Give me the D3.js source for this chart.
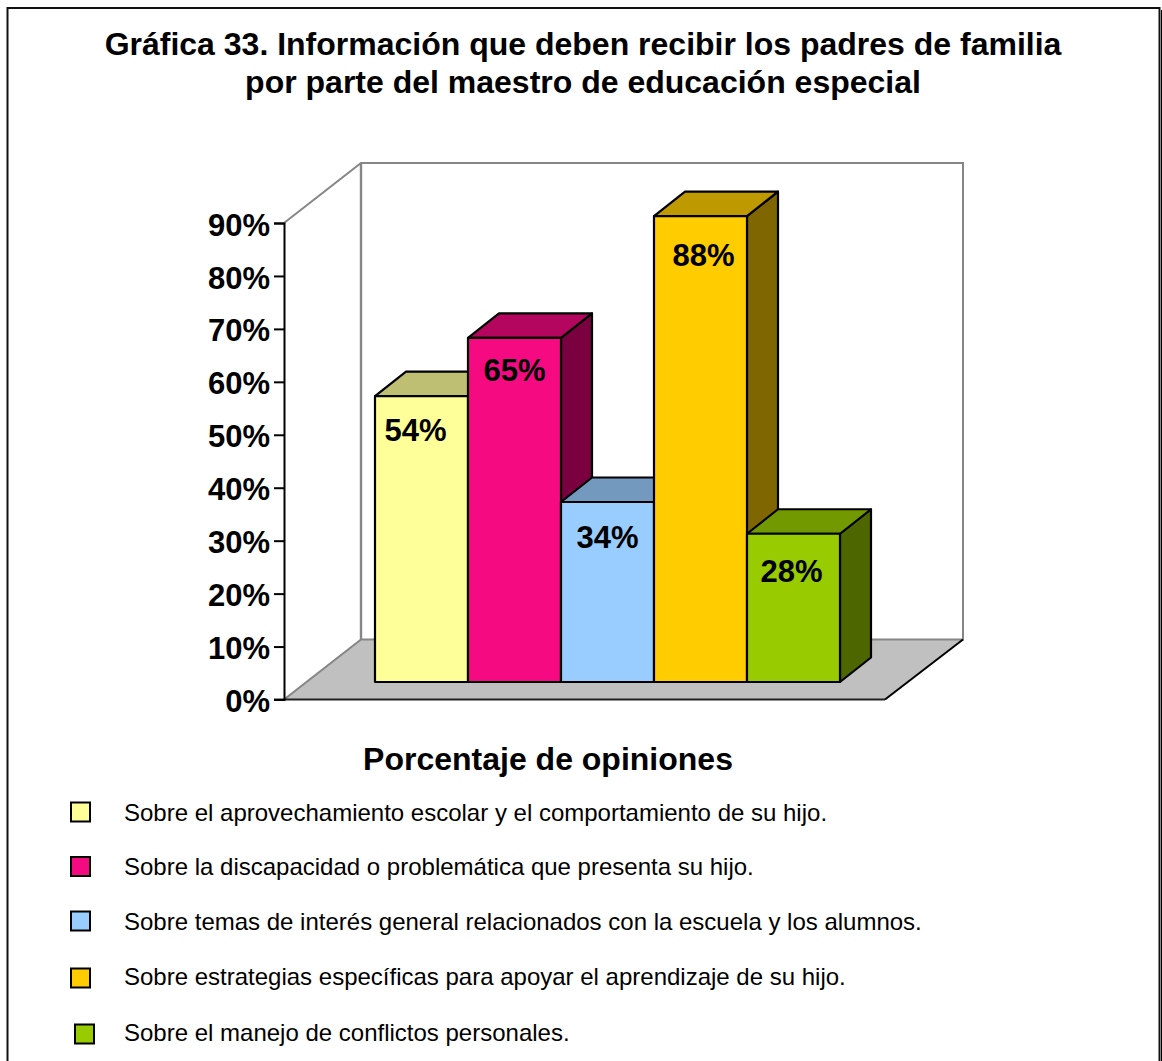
<!DOCTYPE html>
<html><head><meta charset="utf-8">
<script src="https://cdn.jsdelivr.net/npm/d3@7/dist/d3.min.js"></script>
<style>html,body{margin:0;padding:0;background:#fff}svg{display:block}text{font-family:"Liberation Sans",Arial,sans-serif;fill:#000}</style>
</head><body><svg id="c" width="1162" height="1061"></svg>
<script>
const titleLines = ["Gráfica 33. Información que deben recibir los padres de familia","por parte del maestro de educación especial"];
const xTitle = "Porcentaje de opiniones";
const categories = ["Sobre el aprovechamiento escolar y el comportamiento de su hijo.","Sobre la discapacidad o problemática que presenta su hijo.","Sobre temas de interés general relacionados con la escuela y los alumnos.","Sobre estrategias específicas para apoyar el aprendizaje de su hijo.","Sobre el manejo de conflictos personales."];
const values = [54,65,34,88,28];
const labels = ["54%","65%","34%","88%","28%"];
const frontColors = ["#FFFF99","#F50A82","#99CCFF","#FFCC00","#99CC00"];
const topColors = ["#BFBF73","#B5065F","#7399BF","#BF9900","#739900"];
const sideColors = ["#80804D","#7A0040","#4D6680","#806600","#4D6600"];
const ticks = [0,10,20,30,40,50,60,70,80,90];

const svg = d3.select("#c");
svg.append("rect").attr("x",7.5).attr("y",8).attr("width",1152).attr("height",1060).attr("fill","#fff").attr("stroke","#111").attr("stroke-width",2);
svg.append("rect").attr("x",1161).attr("y",10).attr("width",1).attr("height",1051).attr("fill","#000");
svg.selectAll("text.t").data(titleLines).join("text").attr("class","t").attr("x",583).attr("y",(d,i)=>[55,92.5][i]).attr("text-anchor","middle").attr("style","font-size:32px;font-weight:bold").text(d=>d);

const axisX=284, axisRight=885, depthX=77, depthY=-60;
const y = d3.scaleLinear().domain([0,90]).range([699.5,223]);
const x = d3.scaleBand().domain(categories).range([375,840]);
const barBaseY = 682, bdx=31, bdy=-24.5;
const hScale = v=>y(v)-y(0);

// walls and floor
const wall = "#868686";
svg.append("path").attr("d",d3.line()([[axisX,y(0)],[axisRight,y(0)],[axisRight+depthX+1,y(0)+depthY],[axisX+depthX,y(0)+depthY]])+"Z").attr("fill","#C0C0C0").attr("stroke","none");
svg.append("path").attr("d",d3.line()([[axisX,y(90)],[axisX+depthX,y(90)+depthY],[axisX+depthX+602,y(90)+depthY],[axisX+depthX+602,y(0)+depthY],[axisX+depthX,y(0)+depthY],[axisX,y(0)]])).attr("fill","none").attr("stroke",wall).attr("stroke-width",2);
svg.append("line").attr("x1",axisX+depthX).attr("x2",axisX+depthX).attr("y1",y(90)+depthY).attr("y2",y(0)+depthY).attr("stroke",wall).attr("stroke-width",2.4);
svg.append("line").attr("x1",axisRight).attr("y1",y(0)).attr("x2",axisRight+depthX+1).attr("y2",y(0)+depthY).attr("stroke","#000").attr("stroke-width",2);
svg.append("line").attr("x1",axisX-10).attr("y1",y(0)).attr("x2",axisRight).attr("y2",y(0)).attr("stroke","#222").attr("stroke-width",2);

// y axis
const axisG = svg.append("g").attr("transform",`translate(${axisX},0)`).call(d3.axisLeft(y).tickValues(ticks).tickSize(10).tickPadding(4).tickFormat(d=>d+"%"));
axisG.selectAll("path").attr("stroke","#000").attr("stroke-width",2);
axisG.selectAll("line").attr("stroke","#000").attr("stroke-width",2);
axisG.selectAll("text").attr("style","font-size:31px;font-weight:bold;font-family:'Liberation Sans'").attr("x",-14).attr("dy","0.39em");

// bars
const w = x.bandwidth();
const labelDx=[-6,0,0,3,-2], labelDy=[45,43,46,50,48];
function st(s){return s.attr("stroke","#000").attr("stroke-width",2.2).attr("stroke-linejoin","round");}
values.forEach((v,i)=>{
  const l=x(categories[i]), r=l+w, t=barBaseY+hScale(v), b=barBaseY;
  const g=svg.append("g");
  st(g.append("path").attr("d",d3.line()([[r,b],[r+bdx,b+bdy],[r+bdx,t+bdy],[r,t]])+"Z").attr("fill",sideColors[i]));
  st(g.append("path").attr("d",d3.line()([[l,t],[l+bdx,t+bdy],[r+bdx,t+bdy],[r,t]])+"Z").attr("fill",topColors[i]));
  st(g.append("rect").attr("x",l).attr("y",t).attr("width",w).attr("height",b-t).attr("fill",frontColors[i]));
  g.append("text").attr("x",l+w/2+labelDx[i]).attr("y",t+labelDy[i]).attr("text-anchor","middle").attr("style","font-size:31px;font-weight:bold").text(labels[i]);
});

// x title
svg.append("text").attr("x",548).attr("y",770).attr("text-anchor","middle").attr("style","font-size:32px;font-weight:bold").text(xTitle);

// legend
const swatchY = [812,866.5,921,978,1034], swatchX=[70,70,70,70,74], textY=[821,875,930,985,1041];
categories.forEach((c,i)=>{
  svg.append("rect").attr("x",swatchX[i]+1).attr("y",swatchY[i]-9.5).attr("width",19).attr("height",19).attr("fill",frontColors[i]).attr("stroke","#000").attr("stroke-width",2);
  svg.append("text").attr("x",124).attr("y",textY[i]).attr("style","font-size:24px").text(c);
});
</script></body></html>
